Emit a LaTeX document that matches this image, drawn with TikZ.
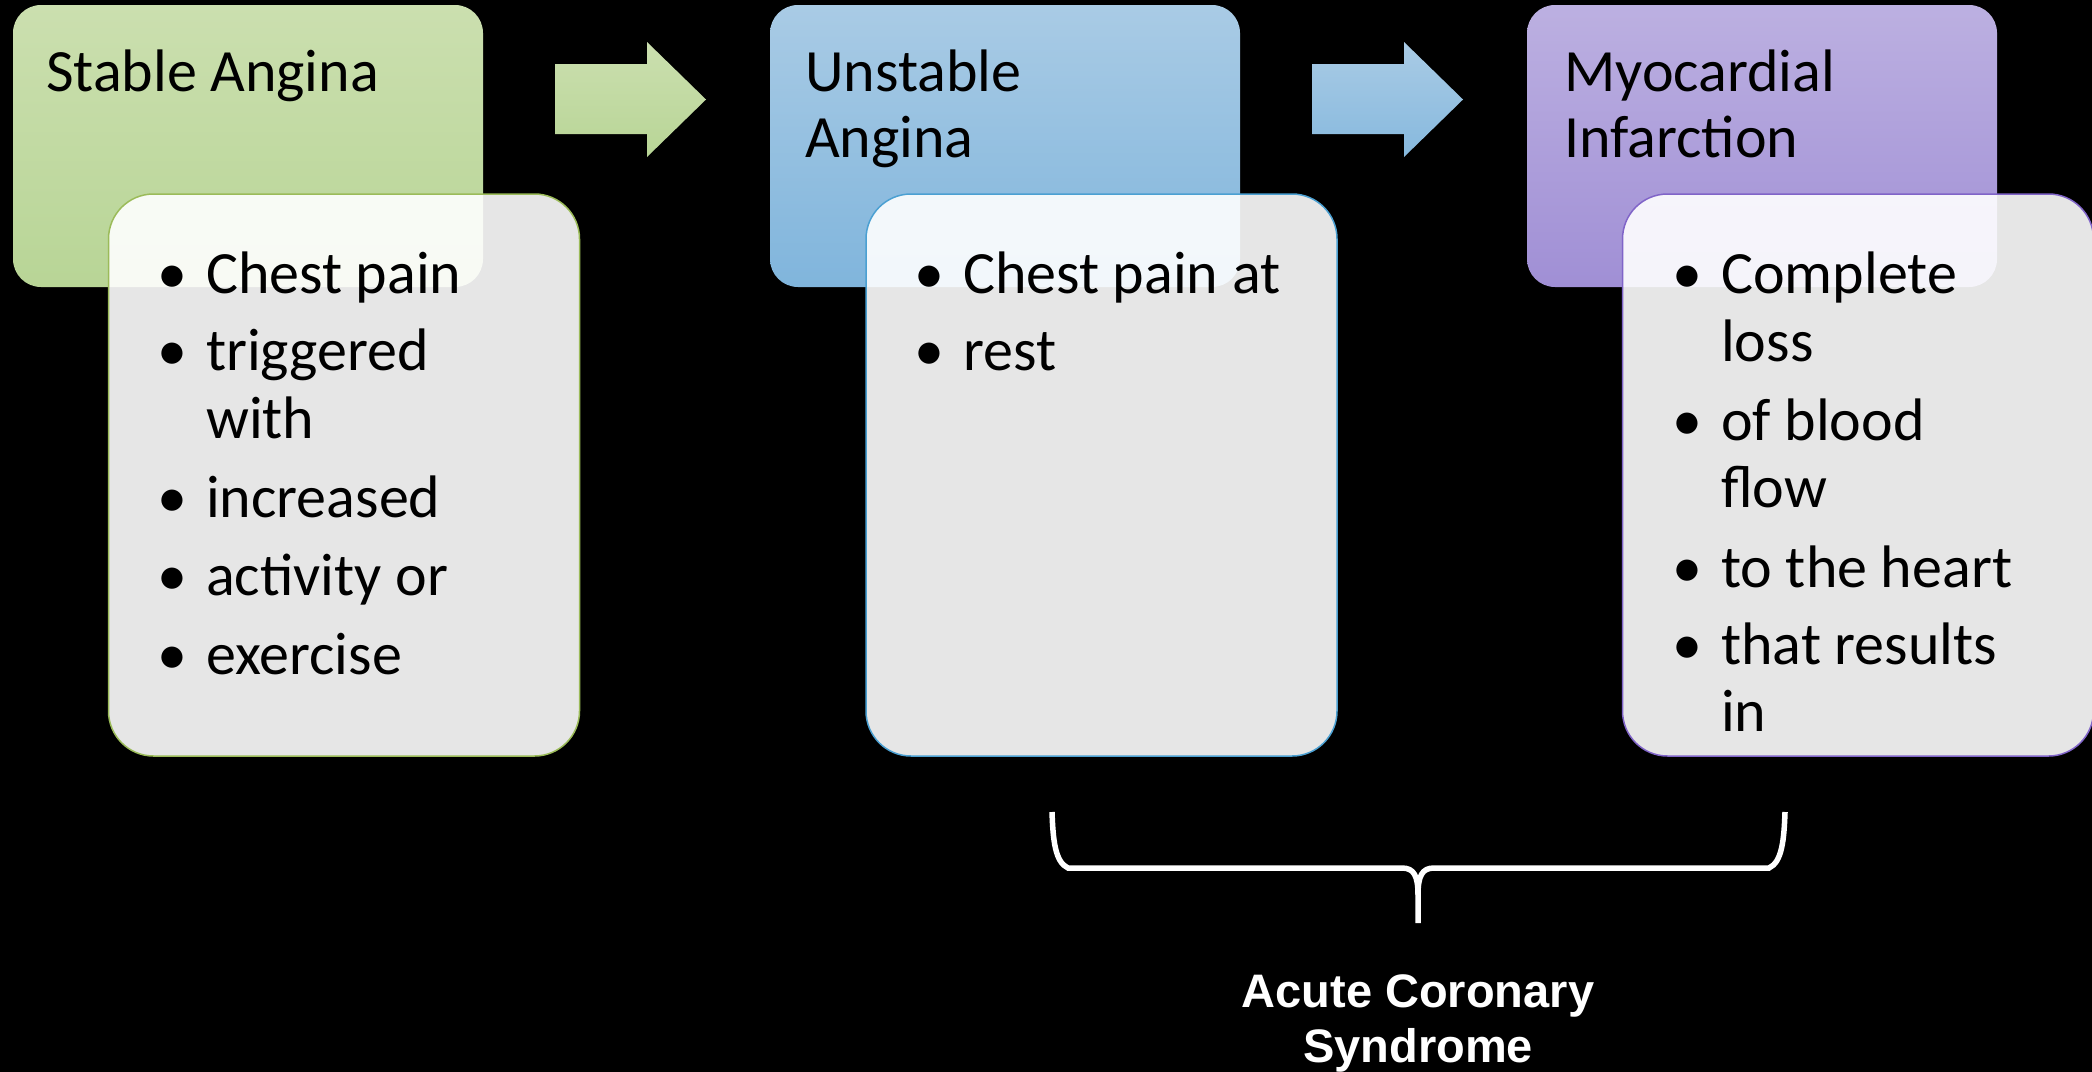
\documentclass[tikz,border=0pt]{standalone}
\usepackage{fontspec}
\setmainfont{Carlito}
\newfontfamily\acsfont{Liberation Sans}
\definecolor{gTop}{RGB}{203,223,175}
\definecolor{gBot}{RGB}{184,213,150}
\definecolor{bTop}{RGB}{169,203,229}
\definecolor{bBot}{RGB}{128,181,220}
\definecolor{pTop}{RGB}{188,176,225}
\definecolor{pBot}{RGB}{160,143,213}
\definecolor{gLine}{RGB}{155,187,89}
\definecolor{bLine}{RGB}{75,160,210}
\definecolor{pLine}{RGB}{128,100,200}
\begin{document}
\begin{tikzpicture}[x=1pt,y=-1pt,
  hdr/.style={rounded corners=28pt, minimum width=470pt, minimum height=282pt, inner sep=0pt},
  bbox/.style={rounded corners=45pt, minimum width=471pt, minimum height=562pt, inner sep=0pt, fill=white, fill opacity=0.9, line width=1.5pt},
  ttl/.style={anchor=base west, inner sep=0pt, font=\fontsize{60}{66}\selectfont, text=black},
  bul/.style={anchor=base, inner sep=0pt, font=\fontsize{60}{66}\selectfont, text=black},
  itm/.style={anchor=base west, inner sep=0pt, font=\fontsize{60}{66}\selectfont, text=black},
  acs/.style={anchor=base, inner sep=0pt, text=white, font=\acsfont\bfseries\fontsize{47}{55}\selectfont},
  brace/.style={draw=white, line width=5.5pt}]
\useasboundingbox (0,0) rectangle (2092,1071);
\fill[black] (-5,-5) rectangle (2097,1076);

% header boxes
\node[hdr, top color=gTop, bottom color=gBot] (sa) at (248,146) {};
\node[hdr, top color=bTop, bottom color=bBot] (ua) at (1005,146) {};
\node[hdr, top color=pTop, bottom color=pBot] (mi) at (1762,146) {};

% block arrows
\shade[top color=gTop, bottom color=gBot] (555,64) -- (647,64) -- (647,42) -- (706,99.5) -- (647,157) -- (647,134) -- (555,134) -- cycle;
\shade[top color=bTop, bottom color=bBot!95!white] (1312,64) -- (1404,64) -- (1404,42) -- (1463,99.5) -- (1404,157) -- (1404,134) -- (1312,134) -- cycle;

% bullet boxes
\node[bbox, draw=gLine] (saList) at (344,475) {};
\node[bbox, draw=bLine] (uaList) at (1101.5,475) {};
\node[bbox, draw=pLine] (miList) at (1858,475) {};

% titles
\node[ttl] (saT) at (46,91) {Stable Angina};
\node[ttl] (uaT1) at (805,91) {Unstable};
\node[ttl] (uaT2) at (805,157) {Angina};
\node[ttl] (miT1) at (1564,91) {Myocardial};
\node[ttl] (miT2) at (1564,157) {Infarction};

% green items
\node[bul] (gb1) at (172,293) {•}; \node[itm] (g1) at (206,293) {Chest pain};
\node[bul] (gb2) at (172,370) {•}; \node[itm] (g2) at (206,370) {triggered};
\node[itm] (g2b) at (206,438) {with};
\node[bul] (gb3) at (172,517) {•}; \node[itm] (g3) at (206,517) {increased};
\node[bul] (gb4) at (172,595) {•}; \node[itm] (g4) at (206,595) {activity or};
\node[bul] (gb5) at (172,674) {•}; \node[itm] (g5) at (206,674) {exercise};

% blue items
\node[bul] (bb1) at (929,293) {•}; \node[itm] (b1) at (963,293) {Chest pain at};
\node[bul] (bb2) at (929,370) {•}; \node[itm] (b2) at (963,370) {rest};

% purple items
\node[bul] (pb1) at (1687,293) {•}; \node[itm] (p1) at (1721,293) {Complete};
\node[itm] (p1b) at (1721,361) {loss};
\node[bul] (pb2) at (1687,440) {•}; \node[itm] (p2) at (1721,440) {of blood};
\node[itm] (p2b) at (1721,507) {flow};
\node[bul] (pb3) at (1687,587) {•}; \node[itm] (p3) at (1721,587) {to the heart};
\node[bul] (pb4) at (1687,664) {•}; \node[itm] (p4) at (1721,664) {that results};
\node[itm] (p4b) at (1721,731) {in};

% brace
\coordinate (brL) at (1052,812);
\coordinate (brR) at (1785,812);
\coordinate (brM) at (1418,895);
\coordinate (brTip) at (1418,923);
\draw[brace] (brL) .. controls (1053,840) and (1055,862) .. (1068,868) -- (1402,868) .. controls (1414,868) and (1418,876) .. (brM) -- (brTip);
\draw[brace] (brR) .. controls (1784,840) and (1782,862) .. (1769,868) -- (1434,868) .. controls (1422,868) and (1418,876) .. (brM);

% label
\node[acs] (acs1) at (1418,1007) {Acute Coronary};
\node[acs] (acs2) at (1418,1062) {Syndrome};
\end{tikzpicture}
\end{document}
